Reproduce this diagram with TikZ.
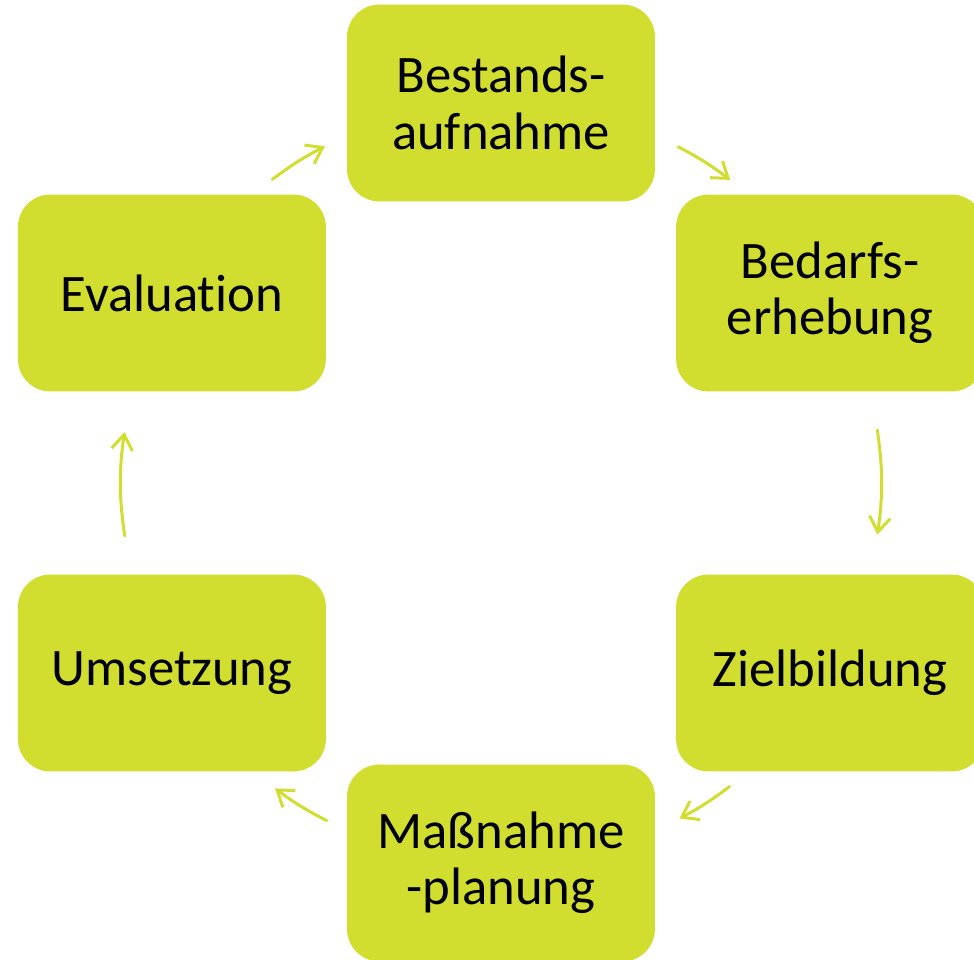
\documentclass[tikz,border=0pt]{standalone}
\usepackage{fontspec}
\setmainfont{Carlito}[RawFeature={-liga;-clig;-calt;-dlig}]
\usetikzlibrary{calc,arrows.meta}
\definecolor{lime}{RGB}{209,222,48}
\tikzset{
	phase/.style={fill=lime, rounded corners=0.65cm, minimum width=6.16cm, minimum height=3.94cm, align=center, inner sep=0pt, font=\fontsize{30}{32}\selectfont},
	cyclearrow/.style={draw=lime, line width=1.7pt, line cap=round, -{Straight Barb[length=0.3cm, width=0.42cm, line width=1.7pt]}}
}

\begin{document}
\begin{tikzpicture}[x=0.02cm, y=0.02cm]
			%%%%% START %%%%%
			\useasboundingbox (0, 0) rectangle (974, 960);
			\coordinate (ctr) at (501, 477);
			
			\node[phase] (bestand) at ($(ctr)+(90:380)$) {Bestands-\\aufnahme};
			\node[phase] (bedarf) at ($(ctr)+(30:380)$) {Bedarfs-\\erhebung};
			\node[phase] (ziel) at ($(ctr)+(-30:380)$) {Zielbildung};
			\node[phase] (massnahme) at ($(ctr)+(-90:380)$) {Maßnahme\\-planung};
			\node[phase] (umsetzung) at ($(ctr)+(-150:380)$) {Umsetzung};
			\node[phase] (eval) at ($(ctr)+(150:380)$) {Evaluat\kern0pt ion};
			
			\coordinate (a1s) at ($(ctr)+(127:380)$);
			\coordinate (a1e) at ($(ctr)+(117.6:380)$);
			\coordinate (a2s) at ($(ctr)+(62.2:380)$);
			\coordinate (a2e) at ($(ctr)+(52.9:380)$);
			\coordinate (a3s) at ($(ctr)+(8:380)$);
			\coordinate (a3e) at ($(ctr)+(-7.8:380)$);
			\coordinate (a4s) at ($(ctr)+(-53:380)$);
			\coordinate (a4e) at ($(ctr)+(-62:380)$);
			\coordinate (a5s) at ($(ctr)+(-117.3:380)$);
			\coordinate (a5e) at ($(ctr)+(-126.5:380)$);
			\coordinate (a6s) at ($(ctr)+(188:380)$);
			\coordinate (a6e) at ($(ctr)+(172.3:380)$);
			
			\draw[cyclearrow] (a1s) to[bend left=4.7] (a1e);
			\draw[cyclearrow] (a2s) to[bend left=4.7] (a2e);
			\draw[cyclearrow] (a3s) to[bend left=8] (a3e);
			\draw[cyclearrow] (a4s) to[bend left=4.5] (a4e);
			\draw[cyclearrow] (a5s) to[bend left=4.6] (a5e);
			\draw[cyclearrow] (a6s) to[bend left=8] (a6e);
			%%%%% END %%%%%
		\end{tikzpicture}
\end{document}
